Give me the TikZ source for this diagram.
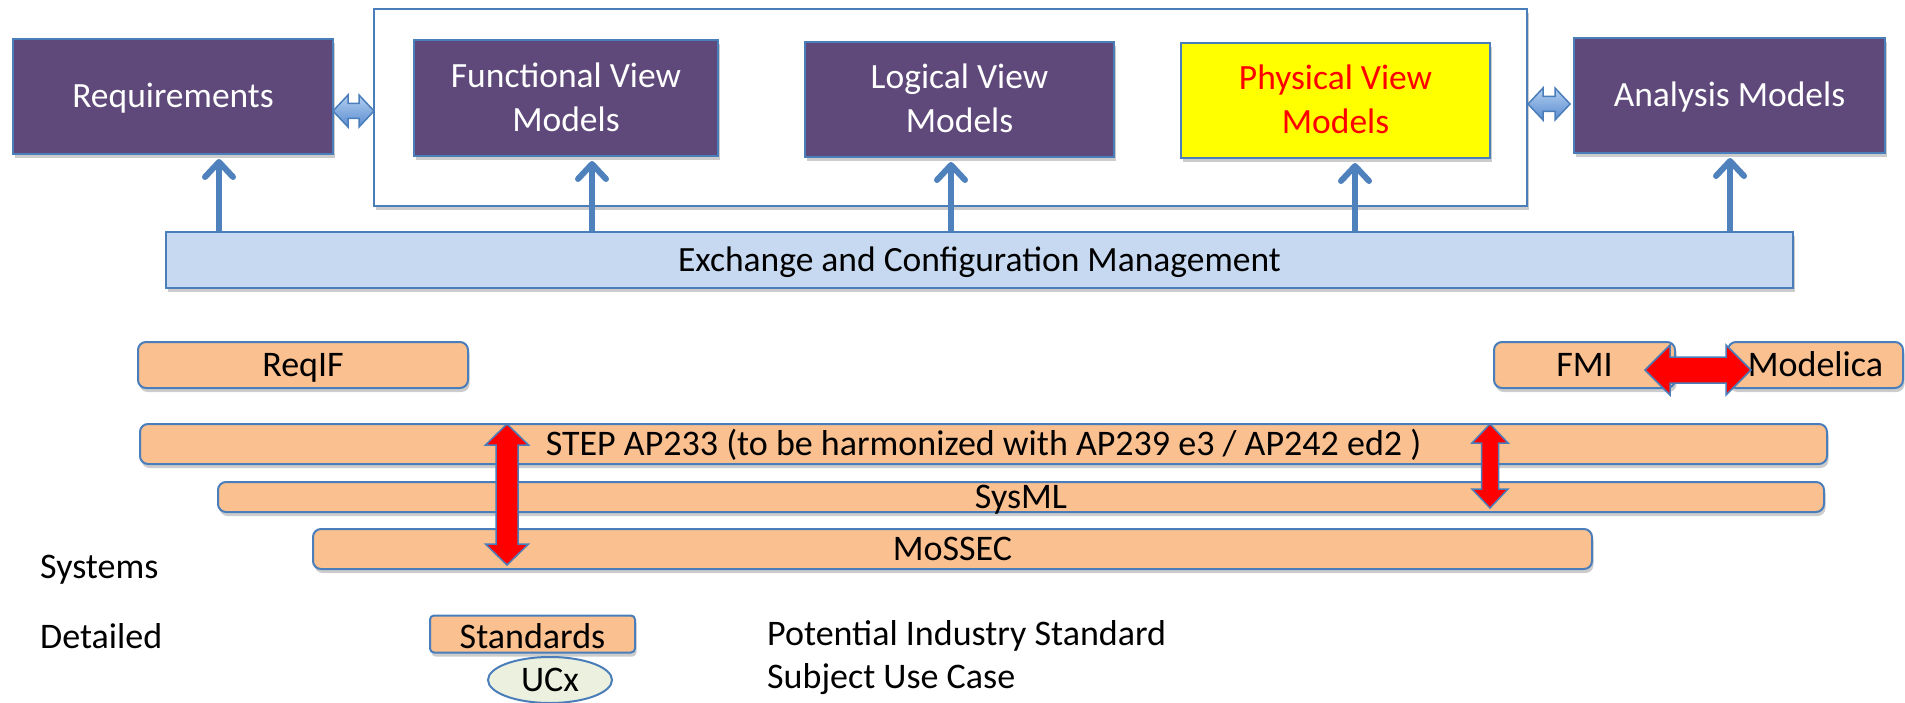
\documentclass[tikz,border=0pt]{standalone}
\usepackage{fontspec}
\setmainfont{Carlito}
\usetikzlibrary{arrows.meta,shadows,shapes.geometric}
\definecolor{purp}{HTML}{5F497A}
\definecolor{bord}{HTML}{4A7EBB}
\definecolor{arblue}{HTML}{4F81BD}
\definecolor{exchc}{HTML}{C6D9F1}
\definecolor{orng}{HTML}{FAC090}
\definecolor{ucxc}{HTML}{EBF1DE}
\definecolor{lblue}{HTML}{B3CFF0}
\definecolor{dblue}{HTML}{5A8CD0}
\definecolor{pureyellow}{rgb}{1,1,0}
\newcommand\mkhdarrow[7]{% x1 x2 y L H S style
 \path[#7] (#1,#3) -- ({#1+#4},{#3-#5}) -- ({#1+#4},{#3-#6}) -- ({#2-#4},{#3-#6}) -- ({#2-#4},{#3-#5}) -- (#2,#3) -- ({#2-#4},{#3+#5}) -- ({#2-#4},{#3+#6}) -- ({#1+#4},{#3+#6}) -- ({#1+#4},{#3+#5}) -- cycle;}
\newcommand\mkvdarrow[7]{% y1 y2 x L H S style
 \path[#7] (#3,#1) -- ({#3-#5},{#1+#4}) -- ({#3-#6},{#1+#4}) -- ({#3-#6},{#2-#4}) -- ({#3-#5},{#2-#4}) -- (#3,#2) -- ({#3+#5},{#2-#4}) -- ({#3+#6},{#2-#4}) -- ({#3+#6},{#1+#4}) -- ({#3+#5},{#1+#4}) -- cycle;}
\tikzset{
 shd/.style={drop shadow={shadow xshift=1.5pt, shadow yshift=-4pt, opacity=0.2, fill=black}},
 oneline/.style={text height=23pt, text depth=0pt},
 twoline/.style={align=center, text height=67pt, text depth=0pt},
 purplebox/.style={draw=bord, line width=2pt, fill=purp, text=white, shd, inner sep=0pt, font=\fontsize{35.5}{44}\selectfont},
 exchbox/.style={draw=bord, line width=2pt, fill=exchc, shd, inner sep=0pt, font=\fontsize{35.5}{44}\selectfont, oneline},
 bar/.style={draw=bord, line width=2pt, fill=orng, rounded corners=8pt, shd, inner sep=0pt, font=\fontsize{36}{42}\selectfont, oneline},
 upar/.style={draw=arblue, line width=6pt, -{Straight Barb[length=15pt,width=28pt,round]}, shorten >=4pt},
 redar/.style={fill=red, draw=bord, line width=1.5pt, line join=miter},
 bluear/.style={top color=lblue, bottom color=dblue, draw=bord, line width=1.5pt},
 lbl/.style={anchor=base west, inner sep=0pt, font=\fontsize{36}{42}\selectfont},
}
\begin{document}
\begin{tikzpicture}[x=1pt,y=-1pt]
\useasboundingbox[fill=white] (0,0) rectangle (1905,703);
% frame
\node[draw=bord, line width=2pt, fill=white, shd, minimum width=1153, minimum height=197, inner sep=0pt] (frame) at (950.5,107.5) {};
% top boxes
\node[purplebox, oneline, minimum width=320, minimum height=115] (req) at (173,96.5) {Requirements};
\node[purplebox, twoline, minimum width=304, minimum height=116] (func) at (566,98) {Functional View\\Models};
\node[purplebox, twoline, minimum width=309, minimum height=115] (logic) at (959.5,99.5) {Logical View\\Models};
\node[purplebox, twoline, minimum width=309, minimum height=115, fill=pureyellow, text=red] (phys) at (1335.5,100.5) {Physical View\\Models};
\node[purplebox, oneline, minimum width=311, minimum height=115] (anal) at (1729.5,95.5) {Analysis Models};
% exchange
\node[exchbox, minimum width=1627, minimum height=56] (exch) at (979.5,260) {Exchange and Configuration Management};
% arrow x positions
\coordinate (a1) at (219,0);
\coordinate (a2) at (592,0);
\coordinate (a3) at (951,0);
\coordinate (a4) at (1355,0);
\coordinate (a5) at (1730,0);
\draw[upar] (exch.north -| a1) -- (req.south -| a1);
\draw[upar] (exch.north -| a2) -- (func.south -| a2);
\draw[upar] (exch.north -| a3) -- (logic.south -| a3);
\draw[upar] (exch.north -| a4) -- (phys.south -| a4);
\draw[upar] (exch.north -| a5) -- (anal.south -| a5);
% blue double arrows
\mkhdarrow{333}{374}{111}{15}{16}{7.5}{bluear}
\mkhdarrow{1528}{1570}{104}{15}{16}{7.5}{bluear}
% standards bars
\node[bar, minimum width=330, minimum height=46] (reqif) at (303,365) {ReqIF};
\node[bar, minimum width=181, minimum height=46] (fmi) at (1584.5,365) {FMI};
\node[bar, minimum width=175, minimum height=46] (modelica) at (1815.5,365) {Modelica};
\node[bar, minimum width=1687, minimum height=40] (step) at (983.5,444) {STEP AP233 (to be harmonized with AP239 e3 / AP242 ed2 )};
\node[bar, minimum width=1606, minimum height=30] (sysml) at (1021,497) {SysML};
\node[bar, minimum width=1279, minimum height=40] (mossec) at (952.5,549) {MoSSEC};
% red arrows
\mkhdarrow{1645}{1751}{370}{25}{25}{13}{redar}
\mkvdarrow{424}{565}{507}{21}{21.5}{11}{redar}
\mkvdarrow{424}{508}{1490}{19}{18}{8.5}{redar}
% legend
\node[lbl] (sys) at (40,578) {Systems};
\node[lbl] (det) at (40,648) {Detailed};
\node[bar, rounded corners=4pt, minimum width=205, minimum height=37, text height=28pt] (std) at (532.5,634) {Standards};
\node[ellipse, draw=bord, line width=2pt, fill=ucxc, inner sep=0pt, minimum width=124, minimum height=46, font=\fontsize{36}{42}\selectfont, oneline] (ucx) at (550,680) {UCx};
\node[lbl] (pis) at (767,645) {Potential Industry Standard};
\node[lbl] (suc) at (767,688) {Subject Use Case};
\end{tikzpicture}
\end{document}
